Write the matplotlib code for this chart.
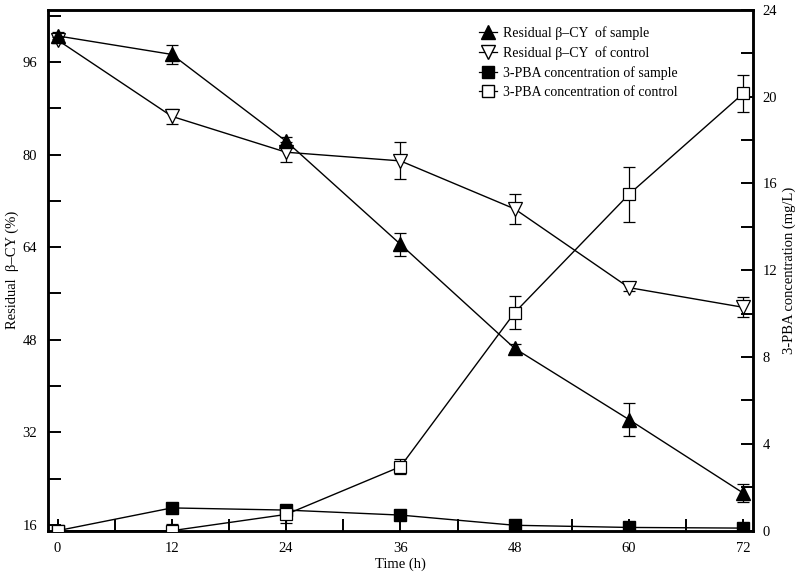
import matplotlib
matplotlib.use("Agg")
import matplotlib.pyplot as plt
from matplotlib.lines import Line2D
from matplotlib.ticker import MultipleLocator

plt.rcParams["font.family"] = ["Liberation Serif", "DejaVu Serif"]
plt.rcParams["font.size"] = 10.5

# ── data ──────────────────────────────────────────────────────────────────────
time = [0, 12, 24, 36, 48, 60, 72]

cy_sample = [100.5, 97.3, 82.3, 64.5, 46.5, 34.2, 21.5]
cy_sample_err = [0.6, 1.7, 0.8, 2.0, 0.7, 2.9, 1.6]
cy_control = [99.8, 86.6, 80.4, 78.9, 70.6, 57.0, 53.6]
cy_control_err = [0.5, 1.3, 1.7, 3.2, 2.6, 0.6, 1.7]

pba_sample = [0.0, 1.05, 0.95, 0.72, 0.25, 0.15, 0.12]
pba_sample_err = [0.05, 0.1, 0.1, 0.1, 0.1, 0.15, 0.2]
pba_control = [0.0, 0.0, 0.75, 2.95, 10.05, 15.5, 20.15]
pba_control_err = [0.2, 0.3, 0.4, 0.35, 0.77, 1.26, 0.87]

labels = ["Residual \u03b2\u2013CY  of sample",
          "Residual \u03b2\u2013CY  of control",
          "3-PBA concentration of sample",
          "3-PBA concentration of control"]

# ── figure ────────────────────────────────────────────────────────────────────
fig = plt.figure(figsize=(8, 5.8), dpi=100)
ax = fig.add_axes([0.06, 0.085, 0.881, 0.898])
ax2 = ax.twinx()

eb = dict(color="black", lw=1.0, capsize=4, elinewidth=0.9, capthick=0.9)
ax.errorbar(time, cy_control, yerr=cy_control_err, marker="v", ms=10,
            mfc="white", mec="black", mew=0.9, zorder=2, **eb)
ax.errorbar(time, cy_sample, yerr=cy_sample_err, marker="^", ms=10,
            mfc="black", mec="black", zorder=3, **eb)
ax2.errorbar(time, pba_sample, yerr=pba_sample_err, marker="s", ms=8,
             mfc="black", mec="black", zorder=2, **eb)
ax2.errorbar(time, pba_control, yerr=pba_control_err, marker="s", ms=8,
             mfc="white", mec="black", mew=0.9, zorder=3, **eb)

ax.set_xlim(-1, 73)
ax.set_ylim(15, 105)
ax2.set_ylim(0, 24)

ax.xaxis.set_major_locator(MultipleLocator(12))
ax.xaxis.set_minor_locator(MultipleLocator(6))
ax.set_yticks([16, 32, 48, 64, 80, 96])
ax.yaxis.set_minor_locator(MultipleLocator(8))
ax2.yaxis.set_major_locator(MultipleLocator(4))
ax2.yaxis.set_minor_locator(MultipleLocator(2))

for a in (ax, ax2):
    a.tick_params(which="both", direction="in", length=9, width=1.4)
    for s in a.spines.values():
        s.set_linewidth(1.8)
ax.tick_params(axis="x", which="both", top=False)
ax.tick_params(axis="both", pad=8)
ax2.tick_params(axis="y", pad=7)

ax.set_xlabel("Time (h)", labelpad=2)
ax.set_ylabel("Residual  \u03b2\u2013CY (%)", labelpad=2)
ax2.set_ylabel("3-PBA concentration (mg/L)", labelpad=4)

handles = [
    Line2D([], [], color="black", lw=0.9, marker="^", ms=10, mfc="black", mec="black"),
    Line2D([], [], color="black", lw=0.9, marker="v", ms=10, mfc="white", mec="black"),
    Line2D([], [], color="black", lw=0.9, marker="s", ms=8, mfc="black", mec="black"),
    Line2D([], [], color="black", lw=0.9, marker="s", ms=8, mfc="white", mec="black"),
]
ax2.legend(handles, labels, loc="upper left",
           bbox_to_anchor=(0.6, 0.985), frameon=False, fontsize=10,
           handlelength=1.3, handletextpad=0.4, labelspacing=0.45,
           borderaxespad=0.2)

fig.savefig("out.png", dpi=100)
